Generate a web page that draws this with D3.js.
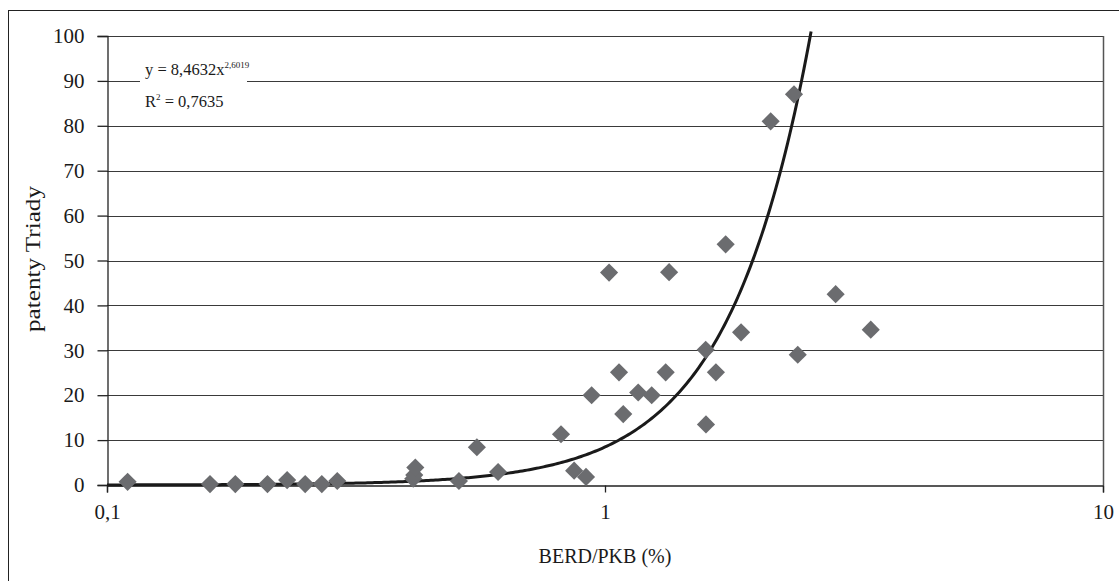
<!DOCTYPE html>
<html>
<head>
	<meta charset="utf-8">
	<title>patenty Triady vs BERD/PKB</title>
	<script src="https://cdn.jsdelivr.net/npm/d3@7"></script>
	<style>
	body { margin: 0; background: #fff; }
	svg text { font-family: "Liberation Serif", "DejaVu Serif", serif; fill: #1a1a1a; }
	</style>
</head>
<body>
	<svg id="chart"></svg>
	<script>

	// BERD/PKB (%) and patents of the Triad
	var berd = [0.110, 0.161, 0.181, 0.210, 0.230, 0.250, 0.270, 0.290,
				0.412, 0.414, 0.416, 0.509, 0.553, 0.610,
				0.816, 0.867, 0.916, 0.940, 1.019, 1.067, 1.088, 1.166, 1.241,
				1.324, 1.345, 1.593, 1.595, 1.670, 1.747, 1.876, 2.151, 2.396,
				2.438, 2.905, 3.417];
	var patents = [0.7, 0.2, 0.2, 0.2, 1.1, 0.2, 0.2, 0.9,
				1.4, 2.2, 3.9, 0.9, 8.4, 2.9,
				11.3, 3.2, 1.8, 20.0, 47.3, 25.1, 15.8, 20.6, 20.0,
				25.1, 47.4, 30.1, 13.5, 25.1, 53.6, 34.0, 81.0, 87.0,
				29.0, 42.5, 34.6];

	var xTicks = [0.1, 1, 10];
	var xTickLabels = ["0,1", "1", "10"];
	var yTicks = [0, 10, 20, 30, 40, 50, 60, 70, 80, 90, 100];

	// power trendline y = a * x^b
	var trendA = 8.4632, trendB = 2.6019, trendR2 = "0,7635";

	var W = 1119, H = 581;
	var margin = {top: 36, right: 16, bottom: 96, left: 107};
	var width = 1103 - margin.left,
		height = 485 - margin.top;

	var svg = d3.select("#chart").attr("width", W).attr("height", H);

	// outer frame
	svg.append("rect")
		.attr("x", 8.5).attr("y", 10.5)
		.attr("width", W + 10).attr("height", H + 10)
		.attr("fill", "none").attr("stroke", "#222").attr("stroke-width", 1);

	var chart = svg.append("g")
		.attr("transform", "translate(" + margin.left + "," + margin.top + ")");

	var xScale = d3.scaleLog().domain([0.1, 10]).range([0, width]);
	var yScale = d3.scaleLinear().domain([0, 100]).range([height, 0]);

	// horizontal gridlines
	chart.append("g")
		.selectAll("line")
		.data(yTicks.slice(1))
		.enter().append("line")
		.attr("x1", 0).attr("x2", width)
		.attr("y1", function(d) { return Math.round(yScale(d)) + 0.5; })
		.attr("y2", function(d) { return Math.round(yScale(d)) + 0.5; })
		.attr("stroke", "#3a3a3a").attr("stroke-width", 1.2);

	// right border of plot area
	chart.append("line")
		.attr("x1", width + 0.5).attr("x2", width + 0.5)
		.attr("y1", 0).attr("y2", height)
		.attr("stroke", "#555").attr("stroke-width", 1.5);

	// y axis
	var yAxis = chart.append("g")
		.attr("transform", "translate(0.5,0)")
		.call(d3.axisLeft(yScale).tickValues(yTicks).tickSize(10).tickPadding(13).tickFormat(d3.format("d")));
	yAxis.selectAll("text").style("font-size", "21px");

	// x axis
	var xAxis = chart.append("g")
		.attr("transform", "translate(0," + (height + 0.5) + ")")
		.call(d3.axisBottom(xScale).tickValues(xTicks).tickSize(7).tickPadding(12)
			.tickFormat(function(d, i) { return xTickLabels[i]; }));
	xAxis.selectAll("text").style("font-size", "21px");

	[yAxis, xAxis].forEach(function(a) {
		a.select(".domain").attr("stroke", "#222").attr("stroke-width", 1.3);
		a.selectAll(".tick line").attr("stroke", "#222").attr("stroke-width", 1.3);
	});

	// trendline
	var xMax = Math.pow(101 / trendA, 1 / trendB);
	var trendX = d3.range(0, 301).map(function(i) {
		return Math.pow(10, -1 + i / 300 * Math.log10(xMax / 0.1));
	});
	chart.append("path")
		.datum(trendX)
		.attr("fill", "none")
		.attr("stroke", "#1a1a1a")
		.attr("stroke-width", 3)
		.attr("d", d3.line()
			.x(function(d) { return xScale(d); })
			.y(function(d) { return yScale(trendA * Math.pow(d, trendB)); }));

	// points
	var pts = berd.map(function(v, i) { return {x: v, y: patents[i]}; });
	chart.selectAll("path.pt")
		.data(pts)
		.enter().append("path")
		.attr("class", "pt")
		.attr("d", d3.symbol().type(d3.symbolDiamond2).size(210))
		.attr("transform", function(d) {
			return "translate(" + xScale(d.x) + "," + yScale(d.y) + ")";
		})
		.attr("fill", "#6b6c6f");

	// equation box
	var eq = chart.append("g").attr("transform", "translate(33,14)");
	eq.append("rect")
		.attr("x", 0).attr("y", 0).attr("width", 107).attr("height", 72)
		.attr("fill", "#fff");
	var t1 = eq.append("text").attr("x", 5).attr("y", 25).style("font-size", "16.5px");
	t1.append("tspan").text("y = 8,4632x");
	t1.append("tspan").attr("dy", -7).style("font-size", "9px").text("2,6019");
	var t2 = eq.append("text").attr("x", 5).attr("y", 57).style("font-size", "16.5px");
	t2.append("tspan").text("R");
	t2.append("tspan").attr("dy", -7).style("font-size", "9px").text("2");
	t2.append("tspan").attr("dy", 7).text(" = " + trendR2);

	// axis titles
	svg.append("text")
		.attr("x", 605).attr("y", 563)
		.attr("text-anchor", "middle")
		.style("font-size", "20px")
		.text("BERD/PKB (%)");

	svg.append("text")
		.attr("transform", "translate(40,259) rotate(-90)")
		.attr("text-anchor", "middle")
		.attr("textLength", 146)
		.attr("lengthAdjust", "spacingAndGlyphs")
		.style("font-size", "20px")
		.text("patenty Triady");

	</script>
</body>
</html>
